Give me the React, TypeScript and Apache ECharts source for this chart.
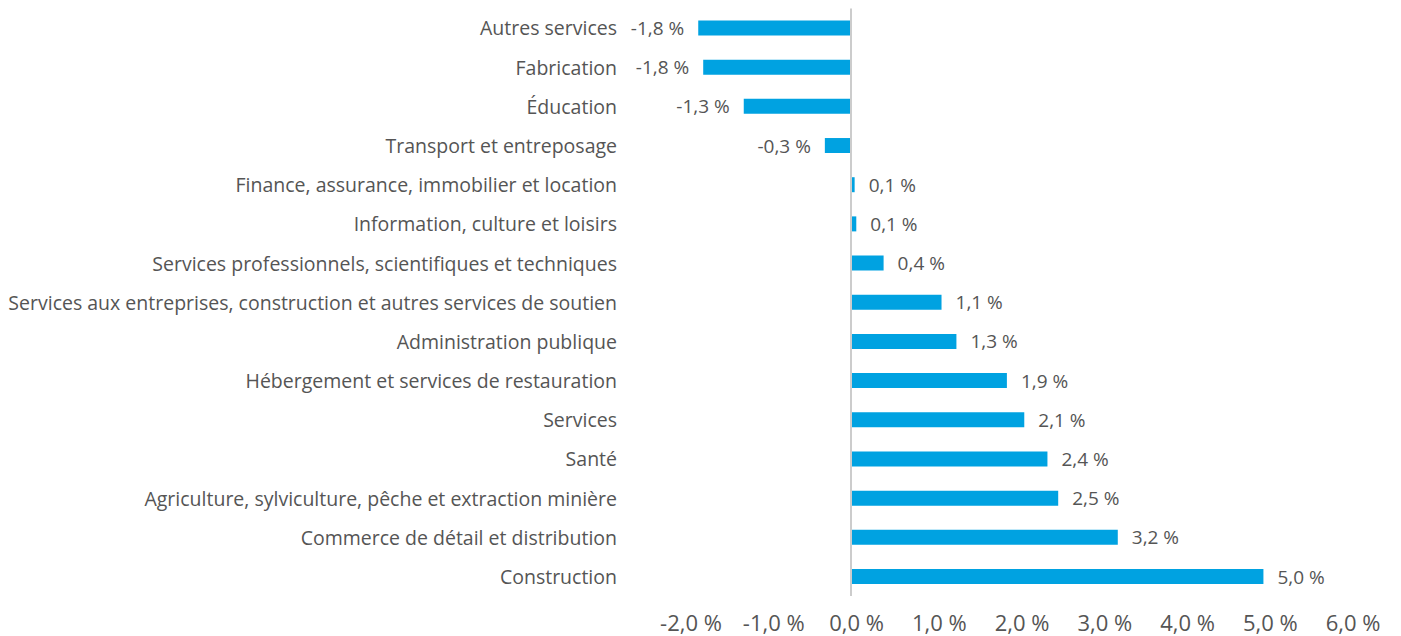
import React, { useEffect, useRef } from "react";
import * as echarts from "echarts";

const categories = [
  "Autres services",
  "Fabrication",
  "Éducation",
  "Transport et entreposage",
  "Finance, assurance, immobilier et location",
  "Information, culture et loisirs",
  "Services professionnels, scientifiques et techniques",
  "Services aux entreprises, construction et autres services de soutien",
  "Administration publique",
  "Hébergement et services de restauration",
  "Services",
  "Santé",
  "Agriculture, sylviculture, pêche et extraction minière",
  "Commerce de détail et distribution",
  "Construction",
];

const values = [
  -1.84, -1.78, -1.29, -0.31, 0.05, 0.07, 0.4, 1.1, 1.28, 1.89, 2.1, 2.38, 2.51, 3.23, 4.99,
];

const axisMin = -2;
const axisMax = 6;
const axisInterval = 1;

const fmt = (v: number) => (Math.round(v * 10) / 10).toFixed(1).replace(".", ",") + " %";

const FONT = "Open Sans";
const TEXT = "#555555";
const BAR = "#00a2e1";

export default function App() {
  const ref = useRef<HTMLDivElement>(null);
  useEffect(() => {
    document.body.style.margin = "0";
    const chart = echarts.init(ref.current!, null, { renderer: "svg" });
    chart.setOption({
      animation: false,
      grid: { left: 685, right: 54, top: 8.4, bottom: 39.9, containLabel: false },
      xAxis: {
        type: "value",
        min: axisMin,
        max: axisMax,
        interval: axisInterval,
        axisLine: { show: false },
        axisTick: { show: false },
        splitLine: { show: false },
        axisLabel: {
          formatter: (v: number) => fmt(v),
          color: TEXT,
          fontFamily: FONT,
          fontSize: 22,
          lineHeight: 22,
          margin: 15,
          padding: [0, 0, 0, 12],
        },
      },
      yAxis: {
        type: "category",
        inverse: true,
        data: categories,
        axisLine: { show: false, onZero: false },
        axisTick: { show: false },
        splitLine: { show: false },
        axisLabel: {
          color: TEXT,
          fontFamily: FONT,
          fontSize: 19.5,
          margin: 68,
          padding: [0, 0, 2, 0],
        },
      },
      series: [
        {
          type: "bar",
          barWidth: 15,
          itemStyle: { color: BAR },
          data: values.map((v) => ({
            value: v,
            label: { position: v < 0 ? "left" : "right" },
          })),
          label: {
            show: true,
            distance: 14,
            color: TEXT,
            fontFamily: FONT,
            fontSize: 19,
            formatter: (p: any) => fmt(p.value),
          },
          markLine: {
            silent: true,
            symbol: "none",
            label: { show: false },
            lineStyle: { color: "#cccccc", width: 2, type: "solid" },
            data: [{ xAxis: 0 }],
          },
          z: 3,
        },
      ],
    });
    return () => chart.dispose();
  }, []);
  return <div ref={ref} style={{ width: 1401, height: 636 }} />;
}
